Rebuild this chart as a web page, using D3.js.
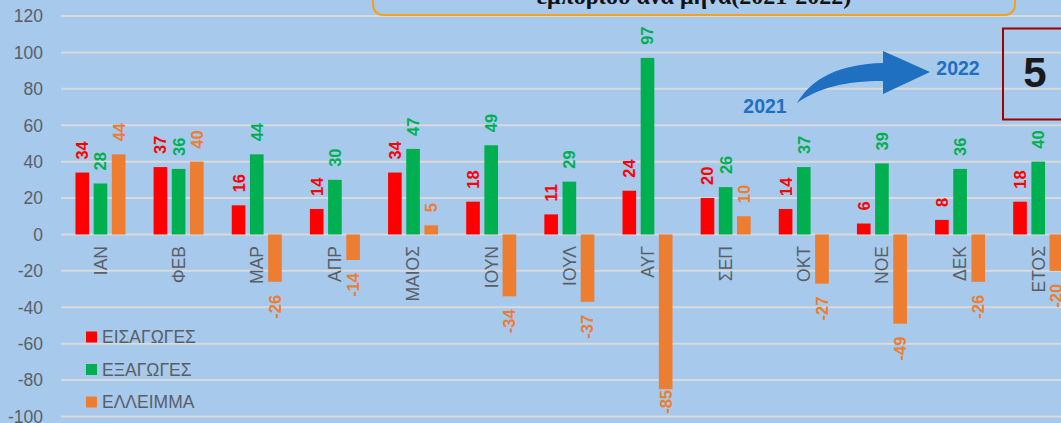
<!DOCTYPE html>
<html>
<head>
<meta charset="utf-8">
<script src="https://cdn.jsdelivr.net/npm/d3@7"></script>
<style>
  html, body { margin: 0; padding: 0; background: #a6c9ec; overflow: hidden; }
  svg { display: block; font-family: "Liberation Sans", Arial, sans-serif; }
</style>
</head>
<body>
<svg id="chart" width="1061" height="423"></svg>
<script>
// months + year total
const categories = ['ΙΑΝ', 'ΦΕΒ', 'ΜΑΡ', 'ΑΠΡ', 'ΜΑΙΟΣ', 'ΙΟΥΝ', 'ΙΟΥΛ', 'ΑΥΓ', 'ΣΕΠ', 'ΟΚΤ', 'ΝΟΕ', 'ΔΕΚ', 'ΕΤΟΣ'];
const imports = [34, 37, 16, 14, 34, 18, 11, 24, 20, 14, 6, 8, 18];
const exportsVals = [28, 36, 44, 30, 47, 49, 29, 97, 26, 37, 39, 36, 40];
const deficit = [44, 40, -26, -14, 5, -34, -37, -85, 10, -27, -49, -26, -20];
const seriesNames = ['ΕΙΣΑΓΩΓΕΣ', 'ΕΞΑΓΩΓΕΣ', 'ΕΛΛΕΙΜΜΑ'];
const yTicks = [120, 100, 80, 60, 40, 20, 0, -20, -40, -60, -80, -100];

const colors = ['#ff0000', '#00b050', '#ed7d31'];
const seriesValues = [imports, exportsVals, deficit];

const svg = d3.select('#chart');
const W = 1061, H = 423;

const y = d3.scaleLinear().domain([-100, 120]).range([416.5, 16]);
const x0 = d3.scaleBand()
	.domain(categories)
	.range([61.4, 1077.3])
	.paddingInner(0.36)
	.paddingOuter(0.18);
const x1 = d3.scaleBand()
	.domain(seriesNames)
	.range([0, x0.bandwidth()])
	.paddingInner(0.25);

// gridlines
svg.append('g')
	.selectAll('line')
	.data(yTicks)
	.join('line')
	.attr('x1', 61)
	.attr('x2', W)
	.attr('y1', d => y(d))
	.attr('y2', d => y(d))
	.attr('stroke', '#dadada')
	.attr('stroke-width', 2);

// y axis labels
svg.append('g')
	.selectAll('text')
	.data(yTicks)
	.join('text')
	.attr('x', 43)
	.attr('y', d => y(d))
	.attr('dy', '0.36em')
	.attr('text-anchor', 'end')
	.attr('fill', '#5a5f66')
	.style('font-size', '17.5px')
	.text(d => d);

// title box (cut at the top)
svg.append('rect')
	.attr('x', 373)
	.attr('y', -40)
	.attr('width', 642)
	.attr('height', 55)
	.attr('rx', 10)
	.attr('fill', 'none')
	.attr('stroke', '#f5a01e')
	.attr('stroke-width', 2);
svg.append('text')
	.attr('x', 694)
	.attr('y', 4)
	.attr('text-anchor', 'middle')
	.style('font-family', '"Liberation Serif", "Times New Roman", serif')
	.style('font-weight', 'bold')
	.style('font-size', '24px')
	.attr('fill', '#111')
	.text('εμπορίου ανά μήνα(2021-2022)');

// data
const data = categories.map((c, i) => ({
	cat: c,
	vals: seriesNames.map((s, j) => ({ name: s, idx: j, value: seriesValues[j][i] }))
}));

const groups = svg.append('g')
	.selectAll('g')
	.data(data)
	.join('g')
	.attr('transform', d => 'translate(' + x0(d.cat) + ',0)');

groups.selectAll('rect')
	.data(d => d.vals)
	.join('rect')
	.attr('x', d => x1(d.name))
	.attr('width', x1.bandwidth())
	.attr('y', d => Math.min(y(d.value), y(0)))
	.attr('height', d => Math.abs(y(d.value) - y(0)))
	.attr('fill', d => colors[d.idx]);

// value labels (rotated)
groups.selectAll('text.val')
	.data(d => d.vals)
	.join('text')
	.attr('class', 'val')
	.attr('transform', d => {
		const cx = x1(d.name) + x1.bandwidth() / 2;
		let ty;
		if (d.value >= 0) ty = y(d.value) - 13;
		else ty = Math.min(y(d.value) + 13, 420 - 30);
		return 'translate(' + cx + ',' + ty + ') rotate(-90)';
	})
	.attr('dy', '0.36em')
	.attr('text-anchor', d => d.value >= 0 ? 'start' : 'end')
	.attr('fill', d => colors[d.idx])
	.style('font-size', '16.5px')
	.style('font-weight', 'bold')
	.text(d => d.value);

// category labels
svg.append('g')
	.selectAll('text')
	.data(categories)
	.join('text')
	.attr('transform', d => 'translate(' + (x0(d) + x0.bandwidth() / 2) + ',246) rotate(-90)')
	.attr('dy', '0.36em')
	.attr('text-anchor', 'end')
	.attr('fill', '#5a5f66')
	.style('font-size', '17.5px')
	.text(d => d);

// legend
const legend = svg.append('g')
	.selectAll('g')
	.data(seriesNames)
	.join('g')
	.attr('transform', (d, i) => 'translate(86,' + (337 + i * 32.5) + ')');
legend.append('rect')
	.attr('x', 0)
	.attr('y', -5.5)
	.attr('width', 11)
	.attr('height', 11)
	.attr('fill', (d, i) => colors[i]);
legend.append('text')
	.attr('x', 16)
	.attr('dy', '0.36em')
	.attr('fill', '#5a5f66')
	.style('font-size', '17.5px')
	.text(d => d);

// 2021 -> 2022 arrow
svg.append('path')
	.attr('d', 'M797,103 C812,78 840,64 883,63 L883,51 L930,72 L883,94 L883,81 C845,81 818,88 797,103 Z')
	.attr('fill', '#1f70c1');
svg.append('text')
	.attr('x', 765)
	.attr('y', 113)
	.attr('text-anchor', 'middle')
	.attr('fill', '#1f70c1')
	.style('font-size', '19.5px')
	.style('font-weight', 'bold')
	.text('2021');
svg.append('text')
	.attr('x', 958)
	.attr('y', 75)
	.attr('text-anchor', 'middle')
	.attr('fill', '#1f70c1')
	.style('font-size', '19.5px')
	.style('font-weight', 'bold')
	.text('2022');

// number box
svg.append('rect')
	.attr('x', 1003)
	.attr('y', 28.5)
	.attr('width', 80)
	.attr('height', 91)
	.attr('fill', 'none')
	.attr('stroke', '#a00000')
	.attr('stroke-width', 2);
svg.append('text')
	.attr('x', 1035)
	.attr('y', 87)
	.attr('text-anchor', 'middle')
	.attr('fill', '#1a1a1a')
	.style('font-size', '42px')
	.style('font-weight', 'bold')
	.text('5');
</script>
</body>
</html>
